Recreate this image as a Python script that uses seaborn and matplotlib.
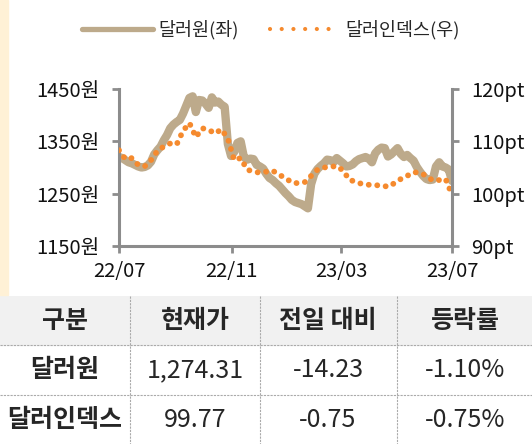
#!/usr/bin/env python
# coding: utf-8

# USD/KRW vs dollar index, one year, plus a small summary table

import pandas as pd
import seaborn as sns
import matplotlib.pyplot as plt
from matplotlib.lines import Line2D
from matplotlib.patches import Rectangle

# ==================
# Data

# USD/KRW, read twice a week from 22/07/13 to 23/07/12
krw_values = [1320, 1318, 1314, 1310, 1308, 1305, 1302, 1300, 1301, 1304,
              1311, 1325, 1333, 1340, 1352, 1362, 1375, 1382, 1387, 1391,
              1403, 1418, 1433, 1436, 1406, 1429, 1428, 1422, 1414, 1434,
              1424, 1426, 1420, 1416, 1345, 1322, 1330, 1347, 1350, 1320,
              1315, 1317, 1316, 1305, 1302, 1298, 1288, 1280, 1276, 1270,
              1265, 1258, 1251, 1245, 1238, 1234, 1232, 1230, 1226, 1222,
              1268, 1288, 1297, 1303, 1308, 1315, 1314, 1310, 1318, 1313,
              1308, 1302, 1303, 1306, 1312, 1316, 1318, 1320, 1317, 1310,
              1327, 1334, 1338, 1337, 1321, 1325, 1331, 1337, 1326, 1320,
              1324, 1318, 1313, 1301, 1292, 1284, 1278, 1276, 1277, 1302,
              1310, 1302, 1300, 1296, 1274.31]

# dollar index, read weekly over the same period
dxy_values = [108.3, 106.6, 106.8, 105.5, 105.2, 106.4, 108.2, 109.0, 109.6, 109.4,
              112.0, 113.5, 110.8, 112.5, 112.2, 111.5, 112.3, 110.5, 106.4, 106.8,
              104.6, 104.2, 104.0, 104.2, 104.4, 103.6, 103.0, 102.1, 102.0, 102.2,
              103.4, 104.6, 105.0, 105.1, 105.3, 104.4, 102.6, 102.3, 101.8, 101.7,
              101.6, 101.6, 101.3, 102.0, 102.8, 103.4, 104.1, 104.0, 103.4, 102.5,
              102.6, 102.8, 99.77]

krw = pd.DataFrame({'date': pd.date_range('2022-07-13', '2023-07-12', periods=len(krw_values)),
                    'value': krw_values})
dxy = pd.DataFrame({'date': pd.date_range('2022-07-13', '2023-07-12', periods=len(dxy_values)),
                    'value': dxy_values})

left_ticks = [1150, 1250, 1350, 1450]
right_ticks = [90, 100, 110, 120]
x_tick_dates = ['2022-07-13', '2022-11-13', '2023-03-13', '2023-07-12']
x_tick_labels = ['22/07', '22/11', '23/03', '23/07']

legend_labels = ['달러원(좌)', '달러인덱스(우)']

table_header = ['구분', '현재가', '전일 대비', '등락률']
table_rows = [['달러원', '1,274.31', '-14.23', '-1.10%'],
              ['달러인덱스', '99.77', '-0.75', '-0.75%']]

# ===================
# Style

sns.set_style('white')
plt.rcParams['font.family'] = ['Noto Sans CJK KR', 'DejaVu Sans']
plt.rcParams['axes.unicode_minus'] = False

tan = '#BDAA8B'
orange = '#F58A2E'
grey = '#8C8C8C'

fig = plt.figure(figsize=(5.32, 4.44), dpi=100)

# cream strip on the left
fig.patches.append(Rectangle((0, 1 - 295 / 444), 8 / 532, 295 / 444,
                             transform=fig.transFigure, color='#FFF1D6', zorder=0))

ax = fig.add_axes([119 / 532, 1 - 246 / 444, 333 / 532, 157 / 444])
ax2 = ax.twinx()

sns.lineplot(data=krw, x='date', y='value', ax=ax, color=tan, lw=6,
             solid_joinstyle='round', solid_capstyle='round')
sns.lineplot(data=dxy, x='date', y='value', ax=ax2, color=orange, lw=4.2,
             linestyle=(0, (0.01, 1.45)), dash_capstyle='round')

ax.set_ylim(1150, 1450)
ax2.set_ylim(90, 120)
ax.set_xlim(pd.Timestamp('2022-07-13'), pd.Timestamp('2023-07-12'))

ax.set_yticks(left_ticks)
ax.set_yticklabels([f'{t}원' for t in left_ticks])
ax2.set_yticks(right_ticks)
ax2.set_yticklabels([f'{t}pt' for t in right_ticks])
ax.set_xticks([pd.Timestamp(d) for d in x_tick_dates])
ax.set_xticklabels(x_tick_labels)

for a in (ax, ax2):
    a.set_xlabel('')
    a.set_ylabel('')
    for s in a.spines.values():
        s.set_visible(False)
ax.spines['left'].set_visible(True)
ax.spines['bottom'].set_visible(True)
ax2.spines['right'].set_visible(True)
for s in (ax.spines['left'], ax.spines['bottom'], ax2.spines['right']):
    s.set_color(grey)
    s.set_linewidth(2.2)

ax.tick_params(axis='y', left=True, length=5, width=2, color=grey, pad=9,
               labelsize=14.5, labelcolor='#111111')
ax.tick_params(axis='x', bottom=True, length=5, width=2, color=grey, pad=6,
               labelsize=14.5, labelcolor='#111111')
ax2.tick_params(axis='y', right=True, length=5, width=2, color=grey, pad=9,
                labelsize=14.5, labelcolor='#111111')

# legend
handles = [Line2D([], [], color=tan, lw=3.8, solid_capstyle='round'),
           Line2D([], [], color=orange, lw=3, linestyle=(0, (0.01, 2.8)),
                  dash_capstyle='round')]
fig.legend(handles, legend_labels, loc='center', bbox_to_anchor=(0.51, 1 - 30 / 444),
           ncol=2, frameon=False, fontsize=13.3, handlelength=3.8,
           handletextpad=0.3, columnspacing=1.7)

# ===================
# Table

tx = fig.add_axes([0, 0, 1, 148 / 444])
tx.set_xlim(0, 532)
tx.set_ylim(148, 0)
tx.axis('off')

row_edges = [0, 49, 99, 148]
col_edges = [0, 130, 260, 397, 532]
col_centres = [65, 195, 328, 465]

tx.add_patch(Rectangle((0, 0), 532, 49, color='#F1F1F1', zorder=0))
for y in row_edges[1:3]:
    tx.plot([0, 532], [y, y], color='#AAAAAA', lw=0.8, ls=(0, (2, 1)))
for x in col_edges[1:4]:
    tx.plot([x, x], [0, 148], color='#AAAAAA', lw=0.8, ls=(0, (2, 1)))

for c, label in zip(col_centres, table_header):
    tx.text(c, 25, label, ha='center', va='center', fontsize=18, fontweight='bold')
for r, row in enumerate(table_rows):
    yc = (row_edges[r + 1] + row_edges[r + 2]) / 2
    for c, (xc, cell) in enumerate(zip(col_centres, row)):
        tx.text(xc, yc, cell, ha='center', va='center', fontsize=18,
                fontweight='bold' if c == 0 else 'normal')

plt.savefig('out.png', dpi=100)
plt.close()
